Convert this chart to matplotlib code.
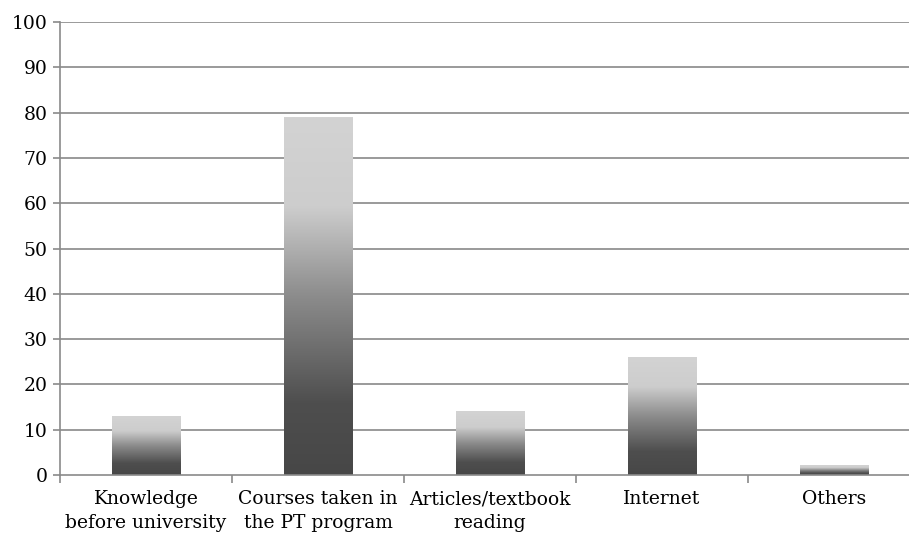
import matplotlib
matplotlib.use("Agg")
import matplotlib.pyplot as plt
import numpy as np
from matplotlib.colors import LinearSegmentedColormap

categories = ["Knowledge\nbefore university", "Courses taken in\nthe PT program",
              "Articles/textbook\nreading", "Internet", "Others"]
values = [13, 79, 14, 26, 2]
yticks = list(range(0, 101, 10))

plt.rcParams["font.family"] = ["DejaVu Serif"]

# light on top, dark at the bottom
grad = LinearSegmentedColormap.from_list(
    "bar", [(0.0, "#474747"), (0.2, "#4e4e4e"), (0.5, "#8c8c8c"),
            (0.75, "#cdcdcd"), (1.0, "#d3d3d3")])

fig = plt.figure(figsize=(9.09, 5.34), dpi=100)
W, H = 909, 534
left, right = 60, 920
top, bottom = 22, 475
ax = fig.add_axes([left / W, 1 - bottom / H, (right - left) / W, (bottom - top) / H])

n = len(categories)
x = np.arange(n)
bw = 0.4

for yv in yticks[1:]:
    ax.axhline(yv, color="#9a9a9a", lw=1.4, zorder=1)

g = np.linspace(0, 1, 256).reshape(-1, 1)
for xi, v in zip(x, values):
    ax.imshow(g, cmap=grad, origin="lower", aspect="auto",
              extent=[xi - bw / 2, xi + bw / 2, 0, v], zorder=2)
ax.set_xlim(-0.5, n - 0.5)
ax.set_ylim(0, 100)

for s in ["top", "right"]:
    ax.spines[s].set_visible(False)
for s in ["left", "bottom"]:
    ax.spines[s].set_color("#8a8a8a")
    ax.spines[s].set_linewidth(1.2)

ax.set_yticks(yticks)
ax.set_yticklabels([str(t) for t in yticks], fontsize=13.5)
ax.set_xticks(x)
ax.set_xticklabels(categories, fontsize=13.5, linespacing=1.4)
ax.set_xticks(np.arange(n + 1) - 0.5, minor=True)
ax.tick_params(axis="x", which="major", length=0, pad=11)
ax.tick_params(axis="x", which="minor", length=6, color="#8a8a8a", width=1.2)
ax.tick_params(axis="y", length=5, color="#8a8a8a", width=1.2, pad=4)

fig.savefig("out.png", dpi=100)
